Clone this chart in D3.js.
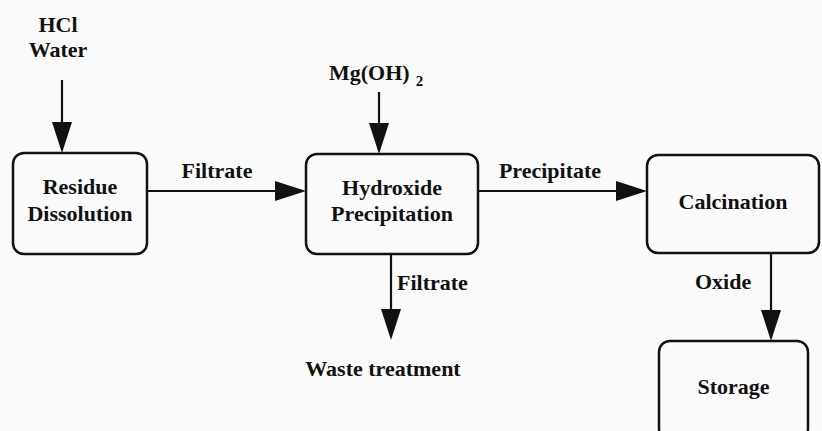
<!DOCTYPE html>
<html>
<head>
<meta charset="utf-8">
<script src="https://cdn.jsdelivr.net/npm/d3@7"></script>
<style>
  body { margin: 0; background: #fafafa; }
  svg { display: block; }
  text { font-family: "Liberation Serif", "Times New Roman", serif; font-weight: bold; fill: #111; }
</style>
</head>
<body>
<svg width="822" height="431"></svg>
<script>
// process steps (boxes)
var steps = ["Residue Dissolution", "Hydroxide Precipitation", "Calcination", "Storage"];
var stepLines = [["Residue", "Dissolution"], ["Hydroxide", "Precipitation"], ["Calcination"], ["Storage"]];
// flows between steps (source, target, label)
var flowSources = ["HCl Water", "Residue Dissolution", "Mg(OH)2", "Hydroxide Precipitation", "Hydroxide Precipitation", "Calcination"];
var flowTargets = ["Residue Dissolution", "Hydroxide Precipitation", "Hydroxide Precipitation", "Calcination", "Waste treatment", "Storage"];
var flowLabels = ["", "Filtrate", "", "Precipitate", "Filtrate", "Oxide"];

var svg = d3.select("svg");
var fs = 22;

// layout (pixel geometry)
var box = {
  "Residue Dissolution":     {x0: 13,  x1: 147, y0: 153, y1: 254, ty: [194, 221]},
  "Hydroxide Precipitation": {x0: 306, x1: 478, y0: 154, y1: 254, ty: [195, 221]},
  "Calcination":             {x0: 647, x1: 819, y0: 155, y1: 253, ty: [209]},
  "Storage":                 {x0: 659, x1: 808, y0: 341, y1: 440, ty: [394]}
};
var flowGeom = [
  {x1: 62,  y1: 80,  x2: 62,  y2: 153},
  {x1: 147, y1: 191, x2: 306, y2: 191, lx: 217, ly: 178, anchor: "middle"},
  {x1: 379, y1: 92,  x2: 379, y2: 154},
  {x1: 478, y1: 191, x2: 647, y2: 191, lx: 550, ly: 178, anchor: "middle"},
  {x1: 391, y1: 254, x2: 391, y2: 340, lx: 397, ly: 290, anchor: "start"},
  {x1: 771, y1: 253, x2: 771, y2: 341, lx: 695, ly: 289, anchor: "start"}
];

var g = svg.append("g");

// boxes
g.selectAll("rect.step")
  .data(steps)
  .enter().append("rect")
  .attr("class", "step")
  .attr("x", function(d) { return box[d].x0; })
  .attr("y", function(d) { return box[d].y0; })
  .attr("width", function(d) { return box[d].x1 - box[d].x0; })
  .attr("height", function(d) { return box[d].y1 - box[d].y0; })
  .attr("rx", 11)
  .attr("fill", "none")
  .attr("stroke", "#111")
  .attr("stroke-width", 2.5);

steps.forEach(function(s, i) {
  var b = box[s];
  stepLines[i].forEach(function(line, j) {
    g.append("text")
      .attr("x", (b.x0 + b.x1) / 2)
      .attr("y", b.ty[j])
      .attr("text-anchor", "middle")
      .attr("font-size", fs)
      .text(line);
  });
});

// arrows
var headLen = 31, headW = 10;
flowGeom.forEach(function(f, i) {
  var dx = f.x2 - f.x1, dy = f.y2 - f.y1;
  var len = Math.sqrt(dx * dx + dy * dy);
  var ux = dx / len, uy = dy / len;
  var bx = f.x2 - ux * headLen, by = f.y2 - uy * headLen;
  g.append("line")
    .attr("x1", f.x1).attr("y1", f.y1)
    .attr("x2", bx).attr("y2", by)
    .attr("stroke", "#111")
    .attr("stroke-width", 2.2);
  g.append("polygon")
    .attr("points", [
      [f.x2, f.y2],
      [bx - uy * headW, by + ux * headW],
      [bx + uy * headW, by - ux * headW]
    ].map(function(p) { return p.join(","); }).join(" "))
    .attr("fill", "#111");
  if (flowLabels[i]) {
    g.append("text")
      .attr("x", f.lx).attr("y", f.ly)
      .attr("text-anchor", f.anchor)
      .attr("font-size", fs)
      .text(flowLabels[i]);
  }
});

// inputs / outputs
g.append("text").attr("x", 58).attr("y", 32).attr("text-anchor", "middle").attr("font-size", fs).text("HCl");
g.append("text").attr("x", 58).attr("y", 57).attr("text-anchor", "middle").attr("font-size", fs).text("Water");
var mg = g.append("text").attr("x", 329).attr("y", 80).attr("font-size", fs);
mg.append("tspan").text("Mg(OH)");
mg.append("tspan").attr("dx", 6).attr("dy", 6).attr("font-size", 15).text("2");
g.append("text").attr("x", 383).attr("y", 376).attr("text-anchor", "middle").attr("font-size", fs).text("Waste treatment");
</script>
</body>
</html>
